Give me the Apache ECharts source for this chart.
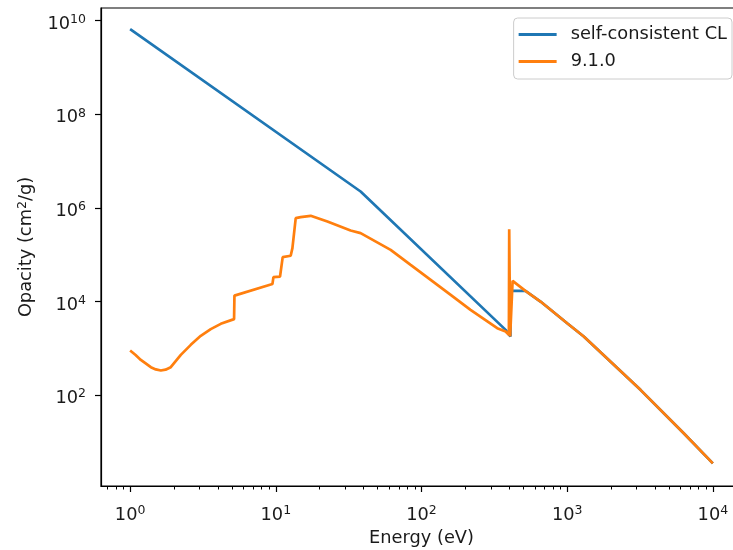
<!DOCTYPE html>
<html>
<head>
<meta charset="utf-8">
<script src="https://cdn.jsdelivr.net/npm/echarts@6/dist/echarts.min.js"></script>
<style>
html, body { margin: 0; padding: 0; background: #fff; overflow: hidden; }
/* the reference figure is cropped on the right, so the chart is a bit wider than the window */
#main { width: 742px; height: 550px; }
</style>
</head>
<body>
<div id="main"></div>
<script>
// opacity vs photon energy

const clEnergy  = [1, 38.2, 378, 408, 408, 517, 656, 1000, 1300, 3184, 6310, 10000];
const clOpacity = [6.6e9, 2.24e6, 2.48e3, 1.79e3, 1.69e4, 1.69e4, 1.0e4, 3435, 1790, 130, 15.4, 3.5];

const v910Energy = [1.0, 1.09, 1.184, 1.387, 1.5, 1.624, 1.75, 1.901, 2.228, 2.608, 3.054, 3.575, 4.19, 5.17, 5.2,
    9.48, 9.63, 10.69, 11.15, 12.65, 13.0, 13.7, 14.8, 17.35, 22.6, 32.6, 38.2, 61.4, 84.2,
    115.6, 158.6, 217, 331, 378, 398, 400, 406, 422, 517, 656, 1000, 1300, 3184, 6310, 10000];
const v910Opacity = [898, 720, 567, 396, 355, 336, 350, 396, 726, 1189, 1849, 2570, 3340, 4210, 1.34e4,
    2.36e4, 3.32e4, 3.42e4, 8.9e4, 9.5e4, 1.38e5, 6.05e5, 6.35e5, 6.78e5, 5.1e5, 3.29e5, 2.9e5, 1.27e5, 6.08e4,
    2.91e4, 1.39e4, 6650, 2700, 2290, 1940, 3.5e5, 1790, 2.77e4, 1.69e4, 1.0e4, 3435, 1790, 130, 15.4, 3.5];

const xMajorTicks = [1, 10, 100, 1000, 10000];
const yMajorTicks = [1e2, 1e4, 1e6, 1e8, 1e10];

// minor ticks at 2..9 of each decade (matplotlib style)
let xMinorTicks = [];
for (let d = -1; d <= 4; d++) {
    for (let k = 2; k <= 9; k++) {
        let v = k * Math.pow(10, d);
        if (v > 0.631 && v < 15849) xMinorTicks.push(v);
    }
}

function pairs(xs, ys) {
    return xs.map((x, i) => [x, ys[i]]);
}

function powLabel(value) {
    let e = Math.round(Math.log10(value));
    return '{b|10}{s|' + e + '}';
}

const FS = 17.8;
const labelRich = {
    b: { fontFamily: 'DejaVu Sans', fontSize: FS, color: '#1a1a1a' },
    s: { fontFamily: 'DejaVu Sans', fontSize: 12.5, color: '#1a1a1a', padding: [0, 0, 9, 0] }
};

let myChart = echarts.init(document.getElementById('main'));

let option = {
    animation: false,
    backgroundColor: '#fff',
    grid: {
        left: 101, top: 8, bottom: 64, right: 0,
        outerBoundsMode: 'none',
        containLabel: false,
        show: true, borderColor: '#000', borderWidth: 1.2
    },
    legend: {
        data: ['self-consistent CL', '9.1.0'],
        orient: 'vertical',
        right: 10, top: 18,
        icon: 'rect',
        itemWidth: 38, itemHeight: 3,
        itemGap: 0,
        padding: [3, 5, 4, 5],
        borderColor: '#cccccc', borderWidth: 1, borderRadius: 4,
        backgroundColor: 'rgba(255,255,255,0.8)',
        textStyle: { fontFamily: 'DejaVu Sans', fontSize: FS, color: '#1a1a1a', lineHeight: 27, padding: [0, 0, 0, 9] }
    },
    xAxis: [
        {
            type: 'log', min: 0.631, max: 15849,
            position: 'bottom',
            axisLine: { show: true, onZero: false, lineStyle: { color: '#000', width: 1.2 } },
            axisTick: { customValues: xMajorTicks, length: 6, lineStyle: { color: '#000', width: 1.2 } },
            axisLabel: { customValues: xMajorTicks, formatter: powLabel, rich: labelRich, margin: 18 },
            splitLine: { show: false },
            name: 'Energy (eV)', nameLocation: 'middle', nameGap: 43,
            nameMoveOverlap: false,
            nameTextStyle: { fontFamily: 'DejaVu Sans', fontSize: FS, color: '#1a1a1a' }
        },
        {
            type: 'log', min: 0.631, max: 15849,
            position: 'bottom',
            axisLine: { show: false, onZero: false },
            axisTick: { customValues: xMinorTicks, length: 3.5, lineStyle: { color: '#000', width: 1 } },
            axisLabel: { show: false },
            splitLine: { show: false }
        }
    ],
    yAxis: {
        type: 'log', min: 1.148, max: 1.862e10,
        position: 'left',
        axisLine: { show: true, onZero: false, lineStyle: { color: '#000', width: 1.2 } },
        axisTick: { customValues: yMajorTicks, length: 6, lineStyle: { color: '#000', width: 1.2 } },
        axisLabel: { customValues: yMajorTicks, formatter: powLabel, rich: labelRich, margin: 15, padding: [7, 0, 0, 0] },
        splitLine: { show: false },
        name: 'Opacity (cm{s|2}/g)', nameLocation: 'middle', nameGap: 64,
        nameMoveOverlap: false,
        nameTextStyle: {
            fontFamily: 'DejaVu Sans', fontSize: FS, color: '#1a1a1a',
            rich: { s: { fontFamily: 'DejaVu Sans', fontSize: 12.5, color: '#1a1a1a', padding: [0, 0, 8, 0] } }
        }
    },
    series: [
        {
            name: 'self-consistent CL', type: 'line', xAxisIndex: 0,
            data: pairs(clEnergy, clOpacity),
            showSymbol: false, symbol: 'none',
            lineStyle: { color: '#1f77b4', width: 2.7 },
            itemStyle: { color: '#1f77b4' }
        },
        {
            name: '9.1.0', type: 'line', xAxisIndex: 0,
            data: pairs(v910Energy, v910Opacity),
            showSymbol: false, symbol: 'none',
            lineStyle: { color: '#ff7f0e', width: 2.7 },
            itemStyle: { color: '#ff7f0e' }
        }
    ]
};

myChart.setOption(option);
</script>
</body>
</html>
